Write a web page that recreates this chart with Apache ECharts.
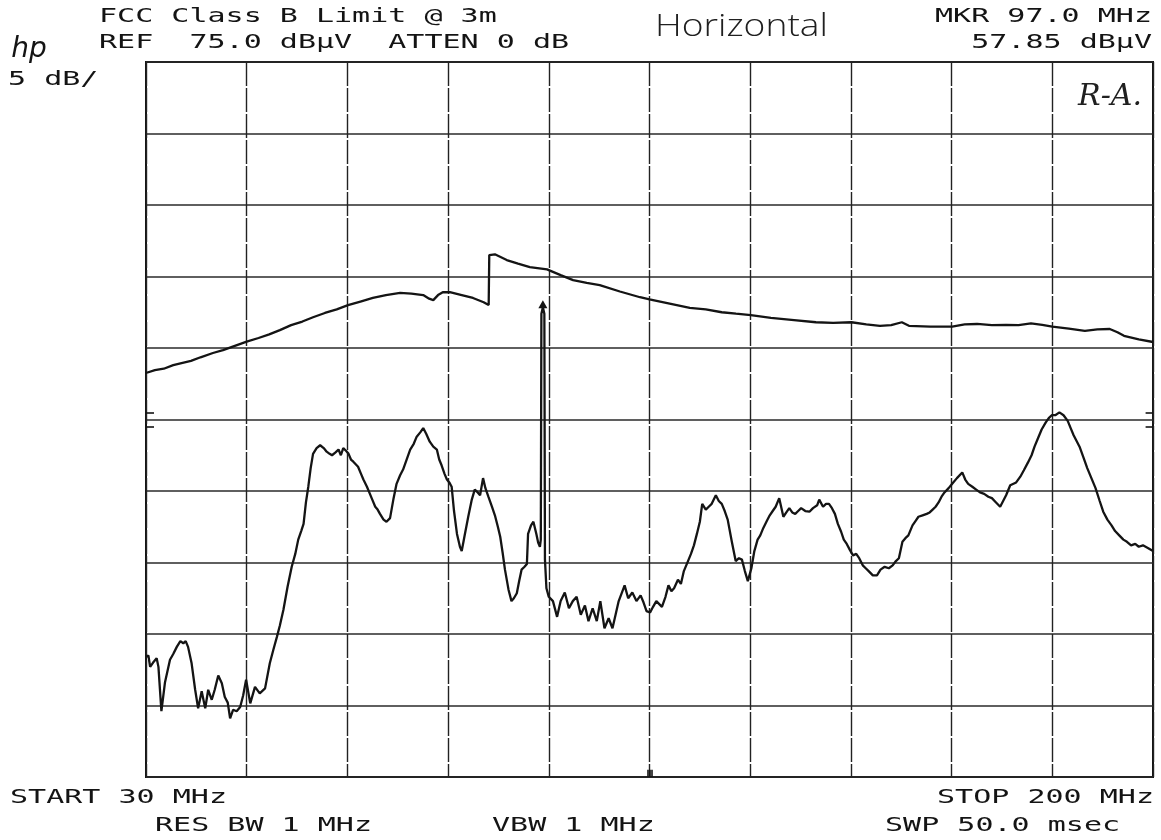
<!DOCTYPE html>
<html>
<head>
<meta charset="utf-8">
<title>FCC Class B Limit @ 3m — Horizontal</title>
<script src="https://cdn.jsdelivr.net/npm/echarts@6/dist/echarts.min.js"></script>
<style>
  html, body { margin: 0; padding: 0; background: #ffffff; }
  #chart { width: 1161px; height: 840px; }
</style>
</head>
<body>
<div id="chart"></div>
<script>
// Sweep settings (MHz) and display scale (dBµV)
const startFreq = 30;
const stopFreq = 200;
const refLevel = 75;
const dbPerDiv = 5;
const divisions = 10;

// FCC Class B limit line (already corrected to dBµV at the analyzer input)
const limitFreq = [30.0, 31.5, 33.0, 34.6, 36.0, 37.6, 39.2, 41.3, 43.0, 45.0, 47.0, 49.0, 50.8, 52.6, 54.5, 56.4,
  58.2, 60.2, 62.2, 64.1, 66.2, 68.3, 70.5, 72.9, 74.8, 76.8, 77.8, 78.5, 79.3, 80.1, 81.3, 83.3, 85.2, 87.0,
  87.85, 87.95, 88.9, 90.9, 92.8, 94.8, 97.7, 100.0, 102.1, 104.4, 106.6, 110.0, 113.4, 115.0, 118.4, 121.8,
  124.5, 127.2, 129.6, 132.1, 135.5, 139.4, 143.1, 146.0, 149.1, 151.6, 153.9, 155.8, 157.6, 158.8, 162.4,
  166.1, 168.2, 170.3, 172.8, 175.2, 177.3, 179.4, 181.3, 183.0, 185.8, 188.5, 190.6, 192.7, 194.0, 195.1,
  197.6, 200.0];
const limitLevel = [53.25, 53.45, 53.55, 53.8, 53.95, 54.1, 54.35, 54.65, 54.85, 55.15, 55.45, 55.7, 55.95, 56.25,
  56.6, 56.85, 57.15, 57.45, 57.7, 58.0, 58.25, 58.5, 58.7, 58.85, 58.8, 58.7, 58.45, 58.35, 58.7, 58.9, 58.9,
  58.7, 58.5, 58.2, 58.0, 61.5, 61.55, 61.15, 60.9, 60.65, 60.5, 60.1, 59.75, 59.55, 59.4, 58.95, 58.55, 58.4,
  58.1, 57.8, 57.7, 57.5, 57.4, 57.3, 57.1, 56.95, 56.8, 56.75, 56.8, 56.65, 56.55, 56.6, 56.8, 56.55, 56.5,
  56.5, 56.65, 56.68, 56.6, 56.62, 56.6, 56.72, 56.62, 56.5, 56.35, 56.2, 56.3, 56.33, 56.1, 55.85, 55.6, 55.42];

// Measured emission trace
const traceFreq = [30.0, 30.4, 30.7, 31.2, 31.8, 32.1, 32.6, 33.2, 34.05, 34.6, 35.2, 35.8, 36.3, 36.7, 37.1, 37.7,
  38.3, 38.8, 39.4, 40.0, 40.5, 41.1, 41.6, 42.2, 42.8, 43.3, 43.8, 44.2, 44.7, 45.3, 45.9, 46.4, 46.9, 47.6,
  48.4, 49.2, 50.1, 50.9, 51.5, 52.1, 52.6, 53.2, 53.9, 54.6, 55.2, 55.7, 56.2, 56.6, 57.0, 57.4, 57.8, 58.2,
  58.8, 59.4, 60.0, 60.5, 61.0, 61.4, 62.0, 62.5, 62.9, 63.3, 63.8, 64.2, 64.6, 65.0, 65.8, 66.3, 66.7, 67.3,
  67.8, 68.2, 68.7, 69.1, 69.5, 70.1, 70.6, 71.2, 71.8, 72.3, 72.9, 73.4, 74.0, 74.6, 75.2, 75.7, 76.3, 76.8,
  77.3, 77.9, 78.5, 79.1, 79.5, 79.9, 80.4, 80.8, 81.2, 81.6, 82.0, 82.5, 83.0, 83.3, 83.8, 84.4, 85.0, 85.5,
  86.0, 86.4, 86.9, 87.3, 87.8, 88.4, 88.9, 89.4, 89.8, 90.2, 90.6, 91.2, 91.7, 92.1, 92.6, 93.0, 93.4, 93.9,
  94.3, 94.5, 95.0, 95.4, 95.9, 96.2, 96.5, 96.65, 96.75, 97.0, 97.25, 97.35, 97.6, 98.0, 98.7, 99.4, 100.0,
  100.7, 101.4, 102.05, 102.7, 103.4, 104.1, 104.7, 105.4, 106.1, 106.7, 107.4, 108.1, 108.75, 109.3, 109.8,
  110.8, 111.4, 112.1, 112.8, 113.5, 114.0, 114.5, 115.1, 115.6, 116.15, 117.1, 117.7, 118.2, 118.7, 119.15,
  119.8, 120.3, 120.8, 121.5, 122.0, 122.5, 123.0, 123.5, 123.9, 124.5, 125.0, 125.5, 126.2, 126.7, 127.2,
  127.7, 128.2, 128.9, 129.55, 130.1, 130.6, 131.1, 131.6, 132.2, 132.7, 133.25, 133.7, 134.2, 134.8, 135.3,
  135.8, 136.3, 136.9, 137.6, 138.1, 138.6, 139.1, 139.6, 140.1, 140.6, 141.3, 142.0, 142.6, 143.3, 143.65,
  144.3, 144.8, 145.3, 145.8, 146.3, 146.8, 147.35, 147.8, 148.3, 148.8, 149.35, 149.9, 150.4, 151.0, 151.5,
  152.0, 152.7, 153.4, 154.0, 154.7, 155.4, 156.05, 156.6, 157.1, 157.7, 158.2, 158.7, 159.4, 159.9, 160.4,
  161.1, 161.8, 162.3, 162.8, 163.3, 163.8, 164.3, 164.8, 165.5, 166.1, 166.9, 167.8, 168.3, 168.8, 169.5,
  170.15, 170.8, 171.5, 172.2, 172.8, 173.5, 174.2, 174.7, 175.2, 175.9, 176.9, 177.6, 178.2, 178.9, 179.5,
  180.0, 180.55, 181.2, 181.9, 182.4, 182.9, 183.5, 184.2, 184.9, 185.6, 186.1, 186.6, 187.1, 187.6, 188.3,
  188.9, 189.6, 190.3, 191.0, 191.6, 192.3, 193.0, 193.6, 194.3, 195.0, 195.6, 196.3, 197.0, 197.6, 198.3,
  199.2, 200.0];
const traceLevel = [33.4, 33.5, 32.7, 33.0, 33.3, 32.7, 29.6, 31.6, 33.2, 33.6, 34.1, 34.5, 34.35, 34.5, 34.1, 32.95,
  31.1, 29.8, 31.0, 29.8, 31.1, 30.4, 31.1, 32.1, 31.55, 30.6, 30.2, 29.1, 29.7, 29.6, 29.9, 30.7, 31.8, 30.15,
  31.3, 30.85, 31.2, 32.95, 33.9, 34.8, 35.6, 36.7, 38.3, 39.7, 40.6, 41.6, 42.2, 42.7, 44.2, 45.3, 46.6, 47.6,
  48.0, 48.2, 48.0, 47.75, 47.6, 47.5, 47.7, 47.9, 47.5, 48.0, 47.8, 47.6, 47.2, 47.05, 46.7, 46.2, 45.8, 45.3,
  44.8, 44.4, 43.9, 43.7, 43.4, 43.0, 42.85, 43.1, 44.5, 45.5, 46.1, 46.5, 47.2, 47.9, 48.3, 48.8, 49.1, 49.4,
  49.0, 48.45, 48.1, 47.9, 47.2, 46.8, 46.2, 45.8, 45.6, 45.3, 43.6, 42.0, 41.1, 40.8, 41.9, 43.2, 44.4, 45.1,
  44.9, 44.7, 45.9, 45.2, 44.6, 43.9, 43.3, 42.5, 41.8, 40.7, 39.5, 38.1, 37.3, 37.5, 37.85, 38.7, 39.5, 39.7,
  39.9, 42.0, 42.6, 42.85, 42.0, 41.4, 41.1, 41.6, 57.4, 57.85, 57.4, 40.2, 38.2, 37.6, 37.3, 36.2, 37.3,
  37.9, 36.8, 37.3, 37.6, 36.35, 37.0, 35.9, 36.8, 35.9, 37.3, 35.4, 36.1, 35.4, 36.4, 37.3,
  38.4, 37.5, 37.9, 37.3, 37.7, 37.2, 36.6, 36.5, 36.9, 37.3, 36.9, 37.6, 38.4, 38.0, 38.2,
  38.8, 38.5, 39.4, 40.1, 40.6, 41.2, 42.0, 42.85, 44.1, 43.7, 43.9, 44.1, 44.7, 44.3, 44.1,
  43.6, 43.0, 41.45, 40.1, 40.3, 40.2, 39.4, 38.7, 39.6, 40.8, 41.6, 41.9, 42.4, 42.9, 43.3,
  43.6, 43.9, 44.5, 43.2, 43.5, 43.8, 43.5, 43.4, 43.6, 43.8, 43.6, 43.55, 43.8, 44.0, 44.4,
  43.9, 44.1, 44.1, 43.8, 43.4, 42.7, 42.15, 41.6, 41.3, 40.9, 40.5, 40.6, 40.3, 39.8, 39.6,
  39.4, 39.1, 39.1, 39.5, 39.7, 39.6, 39.8, 40.1, 40.3, 41.45, 41.7, 41.9, 42.6, 42.9, 43.2,
  43.3, 43.4, 43.5, 43.7, 43.9, 44.2, 44.6, 44.9, 45.2, 45.5, 45.9, 46.3, 45.8, 45.5, 45.3,
  45.1, 44.9, 44.8, 44.6, 44.5, 44.2, 43.9, 44.3, 44.7, 45.4, 45.6, 46.0, 46.45, 47.0, 47.5,
  48.1, 48.65, 49.3, 49.8, 50.1, 50.3, 50.3, 50.5, 50.3, 49.9, 49.4, 48.9, 48.5, 48.1, 47.3,
  46.6, 45.9, 45.2, 44.3, 43.55, 43.0, 42.6, 42.2, 41.9, 41.6, 41.45, 41.2, 41.3, 41.1, 41.2,
  41.0, 40.8];

// Marker readout
const markerFreq = 97.0;
const markerLevel = 57.85;

// Annotation texts
const headerLeft = ['FCC Class B Limit @ 3m', 'REF  75.0 dB\u00b5V  ATTEN 0 dB'];
const headerRight = ['MKR 97.0 MHz', '57.85 dB\u00b5V'];
const scaleText = '5 dB/';
const footerTexts = ['START 30 MHz', 'STOP 200 MHz', 'RES BW 1 MHz', 'VBW 1 MHz', 'SWP 50.0 msec'];

const zip = (xs, ys) => xs.map((x, i) => [x, ys[i]]);

// Plotter lettering: monospace face widened to the plotter's character pitch
const plotterFont = '19.5px "DejaVu Sans Mono", monospace';
const pitchStretch = 1.54;
function plotterText(text, x, y, align) {
  return {
    type: 'text', x: x, y: y, scaleX: pitchStretch, silent: true,
    style: { text: text, font: plotterFont, fill: '#141414', textAlign: align || 'left', textVerticalAlign: 'middle' }
  };
}

const chart = echarts.init(document.getElementById('chart'), null, { renderer: 'canvas' });

const lineColor = '#141414';

const option = {
  animation: false,
  backgroundColor: '#ffffff',
  grid: { left: 146, right: 8, top: 62, bottom: 63, show: true, borderColor: lineColor, borderWidth: 2, backgroundColor: 'transparent' },
  xAxis: [
    {
      // graticule divisions
      type: 'value', min: 0, max: divisions, interval: 1,
      axisLine: { show: false }, axisTick: { show: false }, axisLabel: { show: false },
      splitLine: { show: true, lineStyle: { color: '#222222', width: 1.4, type: [24, 2] } }
    },
    {
      // frequency scale used by the traces
      type: 'value', min: startFreq, max: stopFreq, show: false,
      splitLine: { show: false }
    }
  ],
  yAxis: {
    type: 'value', min: refLevel - dbPerDiv * divisions, max: refLevel, interval: dbPerDiv,
    axisLine: { show: false }, axisTick: { show: false }, axisLabel: { show: false },
    splitLine: { show: true, lineStyle: { color: '#2a2a2a', width: 1.7, type: 'solid' } }
  },
  series: [
    {
      name: 'Limit',
      type: 'line', xAxisIndex: 1, yAxisIndex: 0,
      data: zip(limitFreq, limitLevel),
      showSymbol: false, silent: true,
      lineStyle: { color: lineColor, width: 2.3 },
      markLine: {
        silent: true, symbol: 'none', label: { show: false },
        lineStyle: { color: lineColor, width: 1.6, type: 'solid' },
        data: [
          // display-line brackets at both edges
          [{ coord: [30, 50.5] }, { coord: [31.35, 50.5] }],
          [{ coord: [30, 49.5] }, { coord: [31.35, 49.5] }],
          [{ coord: [198.75, 50.5] }, { coord: [200, 50.5] }],
          [{ coord: [198.75, 49.5] }, { coord: [200, 49.5] }],
          // center frequency tick
          [{ coord: [114.7, 25] }, { coord: [114.7, 25.5] }],
          [{ coord: [115.0, 25] }, { coord: [115.0, 25.5] }],
          [{ coord: [115.3, 25] }, { coord: [115.3, 25.5] }]
        ]
      }
    },
    {
      name: 'Trace',
      type: 'line', xAxisIndex: 1, yAxisIndex: 0,
      data: zip(traceFreq, traceLevel),
      showSymbol: false, silent: true,
      lineStyle: { color: lineColor, width: 2.3 },
      markPoint: {
        silent: true,
        symbol: 'triangle', symbolSize: [9, 8], symbolOffset: [0, -3],
        itemStyle: { color: lineColor },
        label: { show: false },
        data: [{ coord: [markerFreq, markerLevel] }]
      }
    }
  ],
  graphic: [
    plotterText(headerLeft[0], 99, 17),
    plotterText(headerLeft[1], 99, 43),
    plotterText(headerRight[0], 1152, 17, 'right'),
    plotterText(headerRight[1], 1152, 43, 'right'),
    plotterText(scaleText, 8, 80),
    plotterText(footerTexts[0], 10, 798),
    plotterText(footerTexts[1], 1154, 798, 'right'),
    plotterText(footerTexts[2], 155, 826),
    plotterText(footerTexts[3], 492, 826),
    plotterText(footerTexts[4], 885, 826),
    {
      type: 'text', x: 29, y: 50, silent: true,
      style: { text: 'hp', font: 'italic 28px "DejaVu Sans", sans-serif', fill: '#141414', textAlign: 'center', textVerticalAlign: 'middle' }
    },
    {
      type: 'text', x: 655, y: 27, scaleX: 1.2, silent: true,
      style: { text: 'Horizontal', font: '300 31px "Open Sans", sans-serif', fill: '#202020', textAlign: 'left', textVerticalAlign: 'middle' }
    },
    {
      type: 'text', x: 1110, y: 97, silent: true,
      style: { text: 'R-A.', font: 'italic 30px "DejaVu Serif", serif', fill: '#202020', textAlign: 'center', textVerticalAlign: 'middle' }
    }
  ]
};

chart.setOption(option);
</script>
</body>
</html>
